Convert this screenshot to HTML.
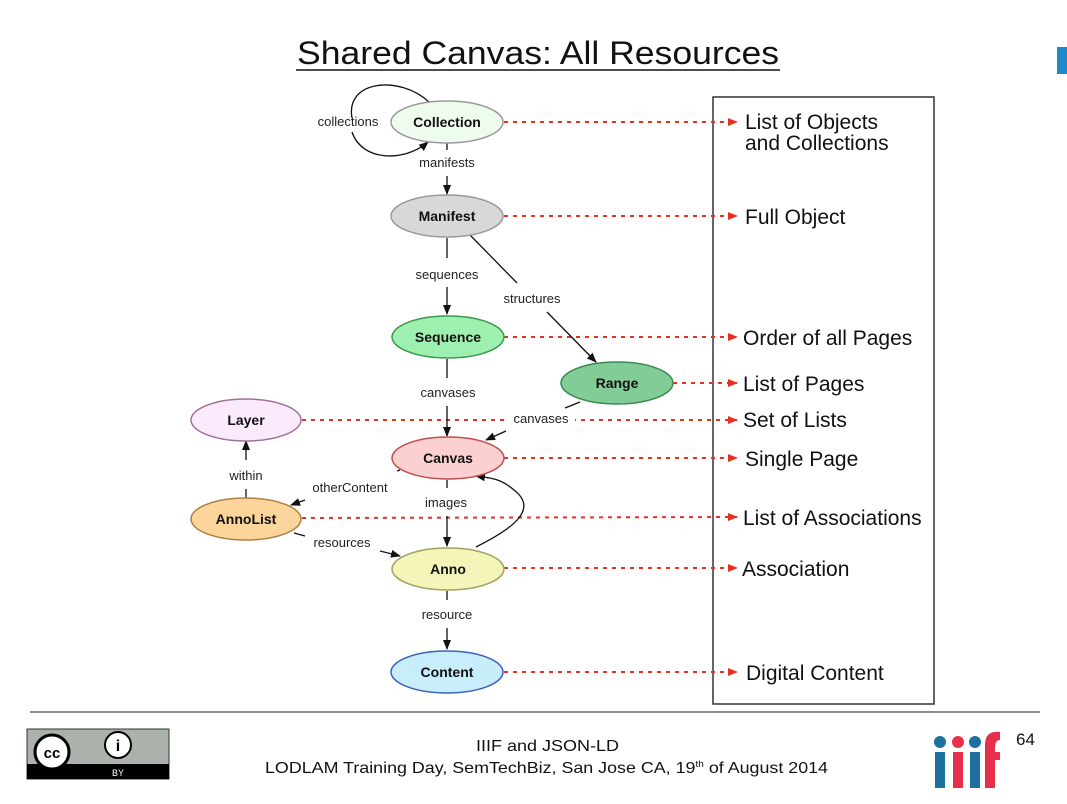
<!DOCTYPE html>
<html><head><style>
body{margin:0;background:#fff;width:1067px;height:799px;overflow:hidden;font-family:"Liberation Sans",Arial,sans-serif}
</style></head><body>
<svg width="1067" height="799" viewBox="0 0 1067 799" xmlns="http://www.w3.org/2000/svg" font-family="Liberation Sans, Arial, sans-serif">
<defs>
<marker id="a" markerWidth="10" markerHeight="8" refX="9" refY="4" orient="auto" markerUnits="userSpaceOnUse"><path d="M0,0 L10,4 L0,8 z" fill="#111"/></marker>
<marker id="r" markerWidth="10" markerHeight="8" refX="9" refY="4" orient="auto" markerUnits="userSpaceOnUse"><path d="M0,0 L10,4 L0,8 z" fill="#e83020"/></marker>
</defs>
<text x="297" y="64" font-size="32" textLength="482" lengthAdjust="spacingAndGlyphs" fill="#111">Shared Canvas: All Resources</text>
<line x1="296" y1="70" x2="780" y2="70" stroke="#111" stroke-width="1.5"/>
<rect x="1057" y="47" width="10" height="27" fill="#1e88c8"/>
<rect x="713" y="97" width="221" height="607" fill="none" stroke="#333" stroke-width="1.5"/>
<g stroke="#e83020" stroke-width="2" stroke-dasharray="4,5" fill="none" marker-end="url(#r)">
<line x1="504" y1="122" x2="737" y2="122"/>
<line x1="504" y1="216" x2="737" y2="216"/>
<line x1="504" y1="337" x2="737" y2="337"/>
<line x1="673" y1="383" x2="737" y2="383"/>
<line x1="302" y1="420" x2="737" y2="420"/>
<line x1="504" y1="458" x2="737" y2="458"/>
<line x1="302" y1="518" x2="737" y2="517"/>
<line x1="504" y1="568" x2="737" y2="568"/>
<line x1="504" y1="672" x2="737" y2="672"/>
</g>
<rect x="505" y="410" width="70" height="18" fill="#fff"/>
<g font-size="21" fill="#111">
<text x="745" y="129">List of Objects</text><text x="745" y="150">and Collections</text>
<text x="745" y="224">Full Object</text>
<text x="743" y="345">Order of all Pages</text>
<text x="743" y="391">List of Pages</text>
<text x="743" y="427">Set of Lists</text>
<text x="745" y="466">Single Page</text>
<text x="743" y="525">List of Associations</text>
<text x="742" y="576">Association</text>
<text x="746" y="680">Digital Content</text>
</g>
<g stroke="#111" stroke-width="1.3" fill="none">
<path d="M429 102 C400 75,345 80,352 118"/>
<path d="M352 132 C362 162,405 162,428 142" marker-end="url(#a)"/>
<line x1="447" y1="143" x2="447" y2="150"/>
<line x1="447" y1="176" x2="447" y2="194" marker-end="url(#a)"/>
<line x1="447" y1="238" x2="447" y2="258"/>
<line x1="447" y1="287" x2="447" y2="314" marker-end="url(#a)"/>
<line x1="470" y1="235" x2="517" y2="283"/>
<line x1="547" y1="312" x2="596" y2="362" marker-end="url(#a)"/>
<line x1="447" y1="359" x2="447" y2="378"/>
<line x1="447" y1="406" x2="447" y2="436" marker-end="url(#a)"/>
<line x1="580" y1="402" x2="565" y2="408"/>
<line x1="506" y1="431" x2="486" y2="440" marker-end="url(#a)"/>
<line x1="447" y1="480" x2="447" y2="488"/>
<line x1="447" y1="516" x2="447" y2="546" marker-end="url(#a)"/>
<path d="M476 547 C510 530,540 510,514 490 C500 478,490 478,476 476" marker-end="url(#a)"/>
<line x1="447" y1="591" x2="447" y2="600"/>
<line x1="447" y1="628" x2="447" y2="649" marker-end="url(#a)"/>
<line x1="246" y1="498" x2="246" y2="489"/>
<line x1="246" y1="460" x2="246" y2="441" marker-end="url(#a)"/>
<line x1="397" y1="471" x2="400" y2="470"/>
<line x1="305" y1="500" x2="291" y2="505" marker-end="url(#a)"/>
<line x1="294" y1="533" x2="305" y2="536"/>
<line x1="380" y1="551" x2="400" y2="556" marker-end="url(#a)"/>
</g>
<g font-size="13" fill="#222" text-anchor="middle">
<text x="348" y="126">collections</text>
<text x="447" y="167">manifests</text>
<text x="447" y="279">sequences</text>
<text x="532" y="303">structures</text>
<text x="448" y="397">canvases</text>
<text x="541" y="423">canvases</text>
<text x="246" y="480">within</text>
<text x="350" y="492">otherContent</text>
<text x="446" y="507">images</text>
<text x="342" y="547">resources</text>
<text x="447" y="619">resource</text>
</g>
<g stroke-width="1.5" font-size="14" font-weight="bold" text-anchor="middle" fill="#111">
<ellipse cx="447" cy="122" rx="56" ry="21" fill="#eefcee" stroke="#999"/>
<ellipse cx="447" cy="216" rx="56" ry="21" fill="#d8d8d8" stroke="#999"/>
<ellipse cx="448" cy="337" rx="56" ry="21" fill="#9ef0b0" stroke="#3a9a4a"/>
<ellipse cx="617" cy="383" rx="56" ry="21" fill="#82cc98" stroke="#3a8a50"/>
<ellipse cx="246" cy="420" rx="55" ry="21" fill="#fbeafb" stroke="#a070a0"/>
<ellipse cx="448" cy="458" rx="56" ry="21" fill="#fcd0d0" stroke="#c05050"/>
<ellipse cx="246" cy="519" rx="55" ry="21" fill="#fbd59c" stroke="#b08040"/>
<ellipse cx="448" cy="569" rx="56" ry="21" fill="#f3f6b8" stroke="#a0a060"/>
<ellipse cx="447" cy="672" rx="56" ry="21" fill="#c8eefc" stroke="#4060c0"/>
<g stroke="none">
<text x="447" y="127">Collection</text>
<text x="447" y="221">Manifest</text>
<text x="448" y="342">Sequence</text>
<text x="617" y="388">Range</text>
<text x="246" y="425">Layer</text>
<text x="448" y="463">Canvas</text>
<text x="246" y="524">AnnoList</text>
<text x="448" y="574">Anno</text>
<text x="447" y="677">Content</text>
</g></g>
<line x1="30" y1="712" x2="1040" y2="712" stroke="#666" stroke-width="1.5"/>
<rect x="27" y="729" width="142" height="50" fill="#aab2ab" stroke="#333"/>
<rect x="27" y="764" width="142" height="15" fill="#000"/>
<circle cx="52" cy="752" r="17" fill="#fff" stroke="#000" stroke-width="3"/>
<text x="52" y="758" font-size="15" font-weight="bold" text-anchor="middle">cc</text>
<circle cx="118" cy="745" r="13" fill="#fff" stroke="#000" stroke-width="2"/>
<text x="118" y="751" font-size="16" font-weight="bold" text-anchor="middle">i</text>
<text x="118" y="776" font-size="9" fill="#fff" text-anchor="middle">BY</text>
<text x="476" y="751" font-size="16" textLength="143" lengthAdjust="spacingAndGlyphs" fill="#111">IIIF and JSON-LD</text>
<text x="265" y="773" font-size="16" fill="#111" textLength="563" lengthAdjust="spacingAndGlyphs">LODLAM Training Day, SemTechBiz, San Jose CA, 19<tspan font-size="9" dy="-6">th</tspan><tspan dy="6"> of August 2014</tspan></text>
<g>
<circle cx="940" cy="742" r="6" fill="#1e70a0"/><rect x="935" y="752" width="10" height="36" fill="#1e70a0"/>
<circle cx="958" cy="742" r="6" fill="#e8304a"/><rect x="953" y="752" width="10" height="36" fill="#e8304a"/>
<circle cx="975" cy="742" r="6" fill="#1e70a0"/><rect x="970" y="752" width="10" height="36" fill="#1e70a0"/>
<path d="M985 788 V745 Q985 730 1000 732 V740 Q995 740 995 748 V752 H1000 V760 H995 V788 z" fill="#e8304a"/>
</g>
<text x="1016" y="745" font-size="17" fill="#111">64</text>
</svg>
</body></html>
